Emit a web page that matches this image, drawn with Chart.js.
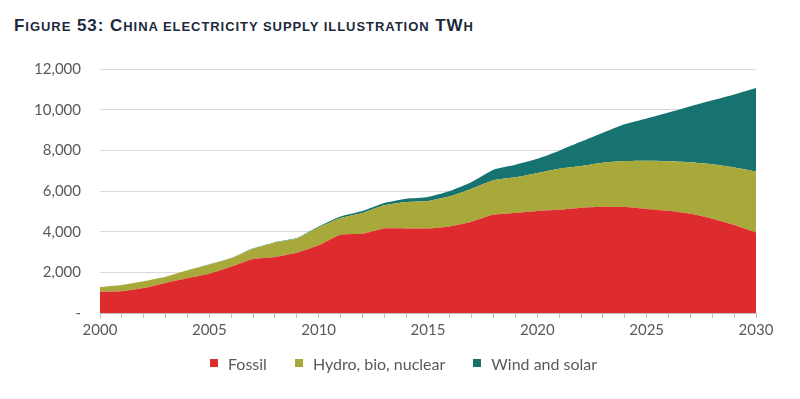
<!DOCTYPE html>
<html>
<head>
<meta charset="utf-8">
<script src="https://cdn.jsdelivr.net/npm/chart.js@4"></script>
<style>
  html, body { margin: 0; padding: 0; background: #fff; }
  #wrap { position: relative; width: 800px; height: 399px; }
  #title { position: absolute; left: 14px; top: 16px; font-family: "Liberation Sans", Arial, sans-serif; font-weight: bold; font-size: 17px; letter-spacing: 0.95px; color: #1c2a3b; white-space: nowrap; }
  #title .sc { font-size: 13px; }
  canvas { position: absolute; left: 0; top: 0; }
  #legend { position: absolute; left: 210px; top: 353px; height: 20px; display: flex; align-items: center; font-family: Lato, "Open Sans", sans-serif; font-size: 16px; color: #595959; white-space: nowrap; }
  #legend .item { display: flex; align-items: center; margin-right: 28px; }
  #legend .item:last-child { margin-right: 0; }
  #legend .box { width: 8px; height: 8px; margin-right: 10px; }
</style>
</head>
<body>
<div id="wrap">
  <div id="title">F<span class="sc">IGURE</span> 53: C<span class="sc">HINA ELECTRICITY SUPPLY ILLUSTRATION</span> TW<span class="sc">H</span></div>
  <canvas id="c" width="800" height="399"></canvas>
  <div id="legend"></div>
</div>
<script>
const years = [2000,2001,2002,2003,2004,2005,2006,2007,2008,2009,2010,2011,2012,2013,2014,2015,2016,2017,2018,2019,2020,2021,2022,2023,2024,2025,2026,2027,2028,2029,2030];
const fossil = [1040,1070,1230,1480,1710,1930,2270,2650,2750,2960,3330,3850,3900,4160,4160,4160,4260,4490,4840,4920,5020,5080,5180,5230,5210,5120,5030,4880,4640,4330,3965];
const hydroBioNuclear = [240,310,330,300,390,460,420,510,710,700,870,820,1020,1140,1300,1350,1480,1625,1690,1755,1870,2020,2050,2160,2265,2370,2430,2530,2670,2830,3000];
const windSolar = [0,0,0,0,0,5,10,20,25,30,60,80,100,115,165,200,260,330,520,610,690,880,1200,1480,1805,2070,2395,2755,3150,3590,4100];
const seriesNames = ["Fossil", "Hydro, bio, nuclear", "Wind and solar"];
const yTicks = [0,2000,4000,6000,8000,10000,12000];

const FONT = "Lato, 'Open Sans', sans-serif";
const colors = ["#de2b2e", "#a8a93a", "#177370"];

const chart = new Chart(document.getElementById('c'), {
  type: 'line',
  data: {
    labels: years,
    datasets: [
      { label: seriesNames[0], data: fossil, backgroundColor: colors[0], borderColor: colors[0], fill: 'origin' },
      { label: seriesNames[1], data: hydroBioNuclear, backgroundColor: colors[1], borderColor: colors[1], fill: '-1' },
      { label: seriesNames[2], data: windSolar, backgroundColor: colors[2], borderColor: colors[2], fill: '-1' }
    ]
  },
  options: {
    responsive: false,
    animation: false,
    elements: { point: { radius: 0 }, line: { borderWidth: 0, tension: 0.15 } },
    layout: { padding: { left: 0, right: 44, top: 69, bottom: 57 } },
    plugins: {
      legend: { display: false },
      tooltip: { enabled: false }
    },
    scales: {
      x: {
        type: 'category',
        offset: false,
        grid: { drawOnChartArea: false, drawTicks: true, tickLength: 5, color: '#bfbfbf' },
        border: { color: '#bfbfbf' },
        ticks: {
          autoSkip: false, maxRotation: 0, padding: 3,
          font: { family: FONT, size: 15 }, color: '#595959',
          callback: function(v, i) { const y = years[i]; return y % 5 === 0 ? String(y) : ''; }
        }
      },
      y: {
        stacked: true,
        min: 0, max: 12000,
        afterBuildTicks: function(s) { s.ticks = yTicks.map(v => ({ value: v })); },
        afterFit: function(s) { s.width = 100; },
        grid: { color: '#d9d9d9', drawTicks: false },
        border: { display: false },
        ticks: {
          padding: 19,
          font: { family: FONT, size: 15 }, color: '#595959',
          callback: function(v) { return v === 0 ? '-' : v.toLocaleString('en-US'); }
        }
      }
    }
  }
});

// HTML legend built from the chart's datasets
const legendEl = document.getElementById('legend');
chart.data.datasets.forEach(function(ds) {
  const item = document.createElement('span');
  item.className = 'item';
  const box = document.createElement('span');
  box.className = 'box';
  box.style.background = ds.backgroundColor;
  const txt = document.createElement('span');
  txt.textContent = ds.label;
  item.appendChild(box);
  item.appendChild(txt);
  legendEl.appendChild(item);
});
</script>
</body>
</html>
